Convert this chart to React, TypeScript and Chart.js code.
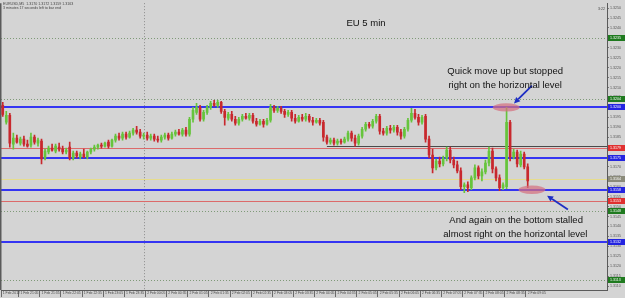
import React, { useEffect, useRef } from 'react';
import { Chart, registerables } from 'chart.js';
Chart.register(...registerables);

// ---- candle data (EURUSD M5) ----
const opens = [
  1.3201, 1.31925, 1.3196, 1.31815, 1.31845, 1.3182, 1.3184, 1.31815, 1.3181, 1.3185,
  1.3182, 1.3183, 1.31745, 1.31775, 1.31795, 1.3178, 1.318, 1.3179, 1.31775, 1.318,
  1.31745, 1.3177, 1.3175, 1.31765, 1.3175, 1.31775, 1.3179, 1.318, 1.3181, 1.31805,
  1.31825, 1.31805, 1.31835, 1.31855, 1.31845, 1.31865, 1.3185, 1.3187, 1.31885, 1.31875,
  1.31855, 1.3186, 1.31845, 1.31855, 1.3184, 1.31835, 1.3185, 1.3186, 1.31845, 1.31865,
  1.31875, 1.31865, 1.31885, 1.31865, 1.3194, 1.31975, 1.32, 1.3194, 1.31975, 1.32,
  1.3202, 1.3201, 1.32025, 1.3198, 1.31945, 1.31965, 1.3194, 1.3192, 1.3194, 1.31955,
  1.31945, 1.3196, 1.3193, 1.31915, 1.3193, 1.31915, 1.31935, 1.32, 1.31985, 1.31995,
  1.3198, 1.31965, 1.31975, 1.31945, 1.3193, 1.3195, 1.3194, 1.31955, 1.31935, 1.31925,
  1.31935, 1.31925, 1.3185, 1.31825, 1.31835, 1.3182, 1.3183, 1.31825, 1.3184, 1.3187,
  1.31845, 1.3182, 1.31855, 1.3189, 1.31915, 1.31905, 1.3193, 1.31955, 1.3188, 1.3187,
  1.31895, 1.31885, 1.319, 1.31875, 1.31855, 1.3189, 1.31935, 1.3197, 1.3195, 1.31925,
  1.31955, 1.3184, 1.3176, 1.31695, 1.3173, 1.31715, 1.31745, 1.31785, 1.31735, 1.3171,
  1.3168, 1.316, 1.3161, 1.31595, 1.31645, 1.31695, 1.31655, 1.31675, 1.3172, 1.3178,
  1.3169, 1.31645, 1.31595, 1.316, 1.31925, 1.3175, 1.31775, 1.3171, 1.31765, 1.317,
];
const highs = [
  1.32025, 1.3198, 1.3197, 1.3187, 1.3186, 1.3185, 1.31855, 1.31835, 1.3187, 1.3186,
  1.31845, 1.3184, 1.3179, 1.31805, 1.31815, 1.31815, 1.3182, 1.31805, 1.31795, 1.31825,
  1.3178, 1.3178, 1.31775, 1.3179, 1.3178, 1.31795, 1.3181, 1.31815, 1.3182, 1.31825,
  1.31835, 1.3184, 1.31865, 1.3187, 1.31875, 1.31875, 1.3188, 1.31895, 1.31905, 1.3189,
  1.3187, 1.31875, 1.31865, 1.31865, 1.31855, 1.3186, 1.3187, 1.3187, 1.31875, 1.31885,
  1.3189, 1.31895, 1.319, 1.3195, 1.32, 1.3202, 1.3201, 1.31985, 1.3201, 1.3203,
  1.32035, 1.32035, 1.3203, 1.3199, 1.31975, 1.3198, 1.31955, 1.3195, 1.31965, 1.3197,
  1.3197, 1.3197, 1.31945, 1.3194, 1.3194, 1.31945, 1.32015, 1.3201, 1.32005, 1.32005,
  1.3199, 1.31985, 1.31985, 1.31965, 1.3196, 1.31965, 1.3197, 1.31965, 1.3195, 1.31945,
  1.31945, 1.31935, 1.3186, 1.31845, 1.31845, 1.3184, 1.3184, 1.3185, 1.3188, 1.3188,
  1.3186, 1.31865, 1.319, 1.31925, 1.31925, 1.3194, 1.31965, 1.31965, 1.31895, 1.31905,
  1.3191, 1.3191, 1.3191, 1.3189, 1.319, 1.31945, 1.31995, 1.3199, 1.31965, 1.3196,
  1.31965, 1.31855, 1.3179, 1.3174, 1.3175, 1.31755, 1.318, 1.318, 1.3175, 1.3173,
  1.31695, 1.3162, 1.31625, 1.31655, 1.3171, 1.31705, 1.3169, 1.31735, 1.318, 1.31795,
  1.317, 1.3166, 1.3162, 1.32, 1.31935, 1.3179, 1.31785, 1.3178, 1.31775, 1.31715,
];
const lows = [
  1.31955, 1.31915, 1.318, 1.3179, 1.3182, 1.3181, 1.31805, 1.318, 1.318, 1.31815,
  1.31805, 1.31715, 1.31735, 1.31765, 1.3178, 1.3177, 1.3178, 1.31765, 1.31765, 1.31735,
  1.31735, 1.31745, 1.3174, 1.31745, 1.3174, 1.31765, 1.3178, 1.3179, 1.31795, 1.318,
  1.31795, 1.318, 1.31825, 1.31835, 1.31835, 1.3184, 1.31845, 1.3186, 1.31865, 1.31845,
  1.3184, 1.31835, 1.31835, 1.3183, 1.31825, 1.31825, 1.3184, 1.31835, 1.3184, 1.31855,
  1.3186, 1.31855, 1.31855, 1.31855, 1.31925, 1.31965, 1.3193, 1.3193, 1.31965, 1.3199,
  1.32005, 1.32, 1.3197, 1.3191, 1.31935, 1.3193, 1.3191, 1.3191, 1.3193, 1.3194,
  1.31935, 1.3192, 1.31905, 1.3191, 1.319, 1.3191, 1.31925, 1.31975, 1.31975, 1.3197,
  1.3195, 1.31955, 1.3193, 1.3192, 1.31925, 1.3193, 1.3193, 1.31925, 1.3191, 1.3192,
  1.3191, 1.3183, 1.31815, 1.31815, 1.3181, 1.3181, 1.31815, 1.3182, 1.3183, 1.3183,
  1.31805, 1.3181, 1.31845, 1.3188, 1.31895, 1.31895, 1.3192, 1.31865, 1.3186, 1.3186,
  1.3187, 1.31875, 1.3186, 1.3184, 1.31845, 1.3188, 1.31925, 1.3194, 1.3191, 1.31915,
  1.31825, 1.31745, 1.3167, 1.31685, 1.317, 1.31705, 1.3173, 1.3172, 1.31695, 1.3167,
  1.31585, 1.3157, 1.31575, 1.31585, 1.31635, 1.3164, 1.3163, 1.31665, 1.31705, 1.3167,
  1.3163, 1.3158, 1.31585, 1.3159, 1.3173, 1.3174, 1.317, 1.317, 1.3169, 1.31595,
];
const closes = [
  1.31965, 1.3196, 1.3182, 1.31845, 1.31825, 1.3184, 1.31815, 1.31805, 1.3185, 1.31825,
  1.31835, 1.3174, 1.3178, 1.31795, 1.31785, 1.31805, 1.3179, 1.31775, 1.31785, 1.31745,
  1.3177, 1.31755, 1.31765, 1.3175, 1.31775, 1.3179, 1.318, 1.3181, 1.31805, 1.3182,
  1.31805, 1.31835, 1.31855, 1.31845, 1.31865, 1.3185, 1.3187, 1.31885, 1.31875, 1.31855,
  1.3186, 1.31845, 1.31855, 1.3184, 1.31835, 1.3185, 1.3186, 1.31845, 1.31865, 1.31875,
  1.31865, 1.31885, 1.31865, 1.3194, 1.31985, 1.32, 1.3194, 1.31975, 1.32, 1.3202,
  1.3201, 1.32025, 1.3198, 1.3195, 1.31965, 1.3194, 1.3192, 1.3194, 1.31955, 1.31945,
  1.3196, 1.3193, 1.31915, 1.3193, 1.31915, 1.31935, 1.32, 1.31985, 1.31995, 1.3198,
  1.31965, 1.31975, 1.31945, 1.3193, 1.3195, 1.3194, 1.31955, 1.31935, 1.31925, 1.31935,
  1.3192, 1.3185, 1.31825, 1.31835, 1.3182, 1.3183, 1.31825, 1.3184, 1.3187, 1.31845,
  1.3182, 1.31855, 1.3189, 1.31915, 1.31905, 1.3193, 1.31955, 1.3188, 1.3187, 1.31895,
  1.31885, 1.319, 1.31875, 1.31855, 1.3189, 1.31935, 1.3197, 1.3195, 1.31925, 1.3195,
  1.3184, 1.3176, 1.31695, 1.3173, 1.31715, 1.31745, 1.31785, 1.31735, 1.3171, 1.3168,
  1.316, 1.3161, 1.31595, 1.31645, 1.31695, 1.31655, 1.31675, 1.3172, 1.3178, 1.3169,
  1.31645, 1.31595, 1.3161, 1.31925, 1.3175, 1.31775, 1.31715, 1.31765, 1.317, 1.3163,
];

// ---- time axis ----
const tickBars = [0, 5, 11, 17, 23, 29, 35, 41, 47, 53, 59, 65, 71, 77, 83, 89, 95, 101, 107, 113, 119, 125, 131, 137, 143, 149];
const tickLabels = [
  '1 Feb 2012', '1 Feb 21:05', '1 Feb 21:35', '1 Feb 22:05', '1 Feb 22:35', '1 Feb 23:05', '1 Feb 23:35',
  '2 Feb 00:05', '2 Feb 00:35', '2 Feb 01:05', '2 Feb 01:35', '2 Feb 02:05', '2 Feb 02:35', '2 Feb 03:05',
  '2 Feb 03:35', '2 Feb 04:05', '2 Feb 04:35', '2 Feb 05:05', '2 Feb 05:35', '2 Feb 06:05', '2 Feb 06:35',
  '2 Feb 07:05', '2 Feb 07:35', '2 Feb 08:05', '2 Feb 08:35', '2 Feb 09:05',
];
const slotCount = 172; // bars plus empty space at the right edge
const separatorBar = 40;

// ---- horizontal levels ----
const blueLevels = [1.32, 1.31745, 1.31585, 1.3132];
const redLevels = [1.31795, 1.3153];
const dottedLevels = [1.3235, 1.3204, 1.3148, 1.3113];
const yellowLevels = [1.3164];
const grayLevel = 1.31805;
const grayFromBar = 92;
const priceMin = 1.3108;
const priceMax = 1.32525;

// ---- annotations (bar index, price) ----
const title = { text: 'EU 5 min', bar: 103.1, price: 1.32425 };
const notes = [
  { text: 'Quick move up but stopped', bar: 142.6, price: 1.3218 },
  { text: 'right on the horizontal level', bar: 142.6, price: 1.3211 },
  { text: 'And again on the bottom stalled', bar: 145.7, price: 1.3143 },
  { text: 'almost right on the horizontal level', bar: 145.5, price: 1.3136 },
];
const arrows = [
  { fromBar: 150.2, fromPrice: 1.3211, toBar: 145.1, toPrice: 1.3202 },
  { fromBar: 160.4, fromPrice: 1.31485, toBar: 154.5, toPrice: 1.31555 },
];
const ellipses = [
  { bar: 142.9, price: 1.32 },
  { bar: 150.2, price: 1.31585 },
];

const BULL = '#66c43c';
const BEAR = '#c8282d';
const FONT = '"Liberation Sans", Arial, sans-serif';

export default function App() {
  const ref = useRef<HTMLCanvasElement | null>(null);
  useEffect(() => {
    const canvas = ref.current;
    if (!canvas) return;
    const n = closes.length;
    const labels = Array.from({ length: slotCount }, (_, i) => String(i));
    const colors = closes.map((c, i) => (c >= opens[i] ? BULL : BEAR));
    const tickMap = new Map<number, string>();
    tickBars.forEach((b, i) => tickMap.set(b, tickLabels[i]));

    const plugin = {
      id: 'mt4',
      beforeDraw(chart: any) {
        const { ctx, width, height } = chart;
        ctx.save();
        ctx.fillStyle = '#d4d4d4';
        ctx.fillRect(0, 0, width, height);
        ctx.restore();
      },
      beforeDatasetsDraw(chart: any) {
        const { ctx, chartArea, scales } = chart;
        const { left, right, top, bottom } = chartArea;
        const y = scales.y, x = scales.x;
        const hline = (p: number, color: string, w: number, dash: number[], x0 = left) => {
          const py = Math.round(y.getPixelForValue(p)) + (w % 2 ? 0.5 : 0);
          ctx.beginPath();
          ctx.setLineDash(dash);
          ctx.strokeStyle = color;
          ctx.lineWidth = w;
          ctx.moveTo(x0, py);
          ctx.lineTo(right, py);
          ctx.stroke();
        };
        ctx.save();
        dottedLevels.forEach((p) => hline(p, '#7f9a78', 1, [1, 2]));
        const sx = Math.round(x.getPixelForValue(separatorBar)) + 0.5;
        ctx.beginPath();
        ctx.setLineDash([1, 2]);
        ctx.strokeStyle = '#8c8c8c';
        ctx.lineWidth = 1;
        ctx.moveTo(sx, top);
        ctx.lineTo(sx, bottom);
        ctx.stroke();
        yellowLevels.forEach((p) => hline(p, '#e6dc8c', 1, []));
        redLevels.forEach((p) => hline(p, '#dc6a6a', 1, []));
        hline(grayLevel, '#4a4a4a', 1, [], x.getPixelForValue(grayFromBar));
        blueLevels.forEach((p) => hline(p, '#3434f2', 2, []));
        ctx.setLineDash([]);
        ctx.strokeStyle = '#5a5a5a';
        ctx.beginPath();
        ctx.moveTo(left - 0.5, top);
        ctx.lineTo(left - 0.5, bottom);
        ctx.stroke();
        ctx.restore();
      },
      afterDraw(chart: any) {
        const { ctx, chartArea, scales, width } = chart;
        const x = scales.x, y = scales.y;
        ctx.save();
        ellipses.forEach((e) => {
          ctx.beginPath();
          ctx.fillStyle = 'rgba(214,112,128,0.72)';
          ctx.ellipse(x.getPixelForValue(e.bar), y.getPixelForValue(e.price), 13.5, 4.2, 0, 0, Math.PI * 2);
          ctx.fill();
        });
        arrows.forEach((a) => {
          const x0 = x.getPixelForValue(a.fromBar), y0 = y.getPixelForValue(a.fromPrice);
          const x1 = x.getPixelForValue(a.toBar), y1 = y.getPixelForValue(a.toPrice);
          const ang = Math.atan2(y1 - y0, x1 - x0);
          const hl = 6, hw = 3;
          const bx = x1 - hl * Math.cos(ang), by = y1 - hl * Math.sin(ang);
          ctx.strokeStyle = '#1e2ec4';
          ctx.fillStyle = '#1e2ec4';
          ctx.lineWidth = 1.8;
          ctx.beginPath();
          ctx.moveTo(x0, y0);
          ctx.lineTo(bx, by);
          ctx.stroke();
          ctx.beginPath();
          ctx.moveTo(x1, y1);
          ctx.lineTo(bx + hw * Math.sin(ang), by - hw * Math.cos(ang));
          ctx.lineTo(bx - hw * Math.sin(ang), by + hw * Math.cos(ang));
          ctx.closePath();
          ctx.fill();
        });
        ctx.fillStyle = '#111';
        ctx.textAlign = 'center';
        ctx.textBaseline = 'middle';
        ctx.font = `9.5px ${FONT}`;
        ctx.fillText(title.text, x.getPixelForValue(title.bar), y.getPixelForValue(title.price));
        notes.forEach((t) => ctx.fillText(t.text, x.getPixelForValue(t.bar), y.getPixelForValue(t.price)));
        const last = n - 1;
        ctx.textAlign = 'left';
        ctx.font = `3.6px ${FONT}`;
        ctx.fillStyle = '#444';
        ctx.fillText(
          `EURUSD,M5  ${opens[last].toFixed(4)} ${highs[last].toFixed(4)} ${lows[last].toFixed(4)} ${closes[last].toFixed(4)}`,
          chartArea.left + 2, 4
        );
        ctx.fillText('3 minutes 17 seconds left to bar end', chartArea.left + 2, 8);
        ctx.textAlign = 'right';
        ctx.fillText('3:22', chartArea.right - 2, 9);
        const tag = (p: number, bg: string) => {
          const py = Math.round(y.getPixelForValue(p));
          ctx.fillStyle = bg;
          ctx.fillRect(chartArea.right + 1, py - 3, width - chartArea.right - 1, 6);
          ctx.fillStyle = '#fff';
          ctx.textAlign = 'left';
          ctx.font = `3.6px ${FONT}`;
          ctx.fillText(p.toFixed(4), chartArea.right + 3, py + 0.3);
        };
        dottedLevels.forEach((p) => tag(p, '#1f7a1f'));
        yellowLevels.forEach((p) => tag(p, '#8a8a7a'));
        redLevels.forEach((p) => tag(p, '#e03030'));
        blueLevels.forEach((p) => tag(p, '#2424e0'));
        ctx.restore();
      },
    };

    const chart = new Chart(canvas, {
      type: 'bar',
      data: {
        labels,
        datasets: [
          {
            data: opens.map((o, i) => [o, closes[i]]) as any,
            backgroundColor: colors,
            barThickness: 2,
            grouped: false,
            order: 1,
            borderWidth: 0,
          } as any,
          {
            data: lows.map((l, i) => [l, highs[i]]) as any,
            backgroundColor: colors,
            barThickness: 1,
            grouped: false,
            order: 2,
            borderWidth: 0,
          } as any,
        ],
      },
      options: {
        responsive: false,
        animation: false,
        devicePixelRatio: 1,
        layout: { padding: { top: 1, left: 1, right: 0, bottom: 0 } },
        plugins: { legend: { display: false }, tooltip: { enabled: false } },
        scales: {
          x: {
            type: 'category',
            offset: true,
            grid: {
              drawOnChartArea: false,
              tickLength: 7,
              color: (c: any) => (tickMap.has(c.index) ? '#6a6a6a' : 'rgba(0,0,0,0)'),
            },
            border: { display: true, color: '#5a5a5a' },
            ticks: {
              autoSkip: false,
              maxRotation: 0,
              minRotation: 0,
              align: 'start',
              padding: -6,
              font: { size: 3.4, family: FONT },
              color: '#444',
              callback: (_v: any, i: number) => tickMap.get(i) ?? '',
            },
            afterFit: (s: any) => { s.height = 8; },
          },
          y: {
            position: 'right',
            min: priceMin,
            max: priceMax,
            grid: { drawOnChartArea: false, tickLength: 2, color: '#777' },
            border: { display: true, color: '#5a5a5a' },
            ticks: {
              stepSize: 0.0005,
              includeBounds: false,
              autoSkip: false,
              padding: 1,
              font: { size: 3.6, family: FONT },
              color: '#555',
              callback: (v: any) => Number(v).toFixed(4),
            },
            afterFit: (s: any) => { s.width = 18; },
          },
        },
      },
      plugins: [plugin],
    });
    return () => chart.destroy();
  }, []);

  return (
    <div style={{ position: 'fixed', left: 0, top: 0, width: 625, height: 298 }}>
      <canvas ref={ref} width={625} height={298} style={{ width: 625, height: 298, display: 'block' }} />
    </div>
  );
}
